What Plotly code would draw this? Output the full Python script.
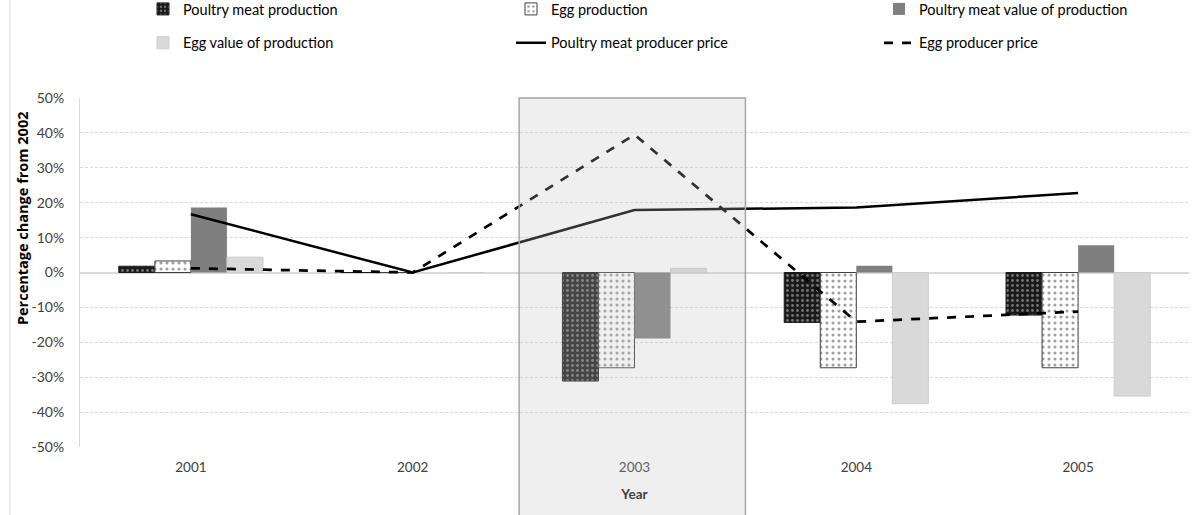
import plotly.graph_objects as go

# Percentage change from 2002, by year
years = ["2001", "2002", "2003", "2004", "2005"]
meat_production = [1.8, 0.0, -31.1, -14.3, -12.2]
egg_production = [3.3, 0.0, -27.3, -27.3, -27.3]
meat_value = [18.6, 0.0, -18.9, 1.9, 7.8]
egg_value = [4.4, 0.0, 1.2, -37.6, -35.4]
meat_price = [16.7, 0.0, 17.9, 18.6, 22.8]
egg_price = [1.2, 0.0, 39.5, -14.1, -11.2]

y_ticks = [-50, -40, -30, -20, -10, 0, 10, 20, 30, 40, 50]
y_tick_labels = ["-50%", "-40%", "-30%", "-20%", "-10%", "0%",
                 "10%", "20%", "30%", "40%", "50%"]

FONT = "Lato, 'Open Sans', sans-serif"
GRID = "#d9d9d9"

fig = go.Figure()

# Legend columns: legend (left), legend2 (middle), legend3 (right)
fig.add_trace(go.Bar(
    x=years, y=meat_production, name="Poultry meat production",
    legend="legend", legendgroup="a",
    marker=dict(line=dict(color="#1a1a1a", width=1),
                pattern=dict(shape=".", bgcolor="#1a1a1a", fgcolor="#cfcfcf",
                             size=5, solidity=0.25)),
))
fig.add_trace(go.Bar(
    x=years, y=egg_production, name="Egg production",
    legend="legend2", legendgroup="b",
    marker=dict(line=dict(color="#404040", width=1),
                pattern=dict(shape=".", bgcolor="#ffffff", fgcolor="#404040",
                             size=6, solidity=0.22)),
))
fig.add_trace(go.Bar(
    x=years, y=meat_value, name="Poultry meat value of production",
    legend="legend3", legendgroup="c",
    marker=dict(color="#7f7f7f", line=dict(width=0)),
))
fig.add_trace(go.Bar(
    x=years, y=egg_value, name="Egg value of production",
    legend="legend", legendgroup="d",
    marker=dict(color="#d9d9d9", line=dict(color="#cccccc", width=1)),
))
fig.add_trace(go.Scatter(
    x=years, y=meat_price, name="Poultry meat producer price",
    legend="legend2", legendgroup="e",
    mode="lines", line=dict(color="#000000", width=2.5),
))
fig.add_trace(go.Scatter(
    x=years, y=egg_price, name="Egg producer price",
    legend="legend3", legendgroup="f",
    mode="lines", line=dict(color="#000000", width=2.75, dash="dash"),
))

# Highlight band over the 2003 category
fig.add_shape(type="rect", xref="x", yref="paper", x0=1.48, x1=2.50, y0=-0.25, y1=1.0,
              layer="above", fillcolor="rgba(194,194,194,0.26)",
              line=dict(color="#a6a6a6", width=1.5))
# Chart-area left border
fig.add_shape(type="line", xref="paper", yref="paper", x0=-0.0632, x1=-0.0632,
              y0=-0.25, y1=1.3, line=dict(color=GRID, width=1))

# Vertical axis title, placed as an annotation so it can sit above centre
fig.add_annotation(
    text="<b>Percentage change from 2002</b>", textangle=-90,
    xref="paper", yref="paper", x=-0.0523, y=0.656,
    xanchor="center", yanchor="middle", showarrow=False,
    font=dict(family="'Open Sans', sans-serif", size=14.5, color="#000000"),
)


def legend_at(px_left):
    return dict(orientation="v", xanchor="left", yanchor="top",
                x=(px_left - 80) / 1109, y=1.3009,
                tracegroupgap=12, traceorder="grouped",
                font=dict(family=FONT, size=14.5, color="#000000"),
                bgcolor="rgba(0,0,0,0)", itemclick=False)


fig.update_layout(
    width=1203, height=515,
    margin=dict(l=80, r=14, t=98, b=68, autoexpand=False),
    paper_bgcolor="#ffffff", plot_bgcolor="#ffffff",
    font=dict(family=FONT, size=13, color="#000000"),
    barmode="group", bargap=0.35, bargroupgap=0,
    legend=legend_at(143),
    legend2=legend_at(511),
    legend3=legend_at(879),
    xaxis=dict(
        type="category", showgrid=False, ticks="", showline=False,
        ticklabelstandoff=10,
        tickfont=dict(family=FONT, size=13.5, color="#404040"),
        title=dict(text="<b>Year</b>", font=dict(family=FONT, size=13.5, color="#404040"),
                   standoff=16),
    ),
    yaxis=dict(
        range=[-50, 50], tickvals=y_ticks, ticktext=y_tick_labels,
        showgrid=True, gridcolor=GRID, griddash="3px,2px", gridwidth=1,
        zeroline=True, zerolinecolor=GRID, zerolinewidth=1.5,
        showline=True, linecolor=GRID, linewidth=1,
        ticklabelstandoff=12,
        tickfont=dict(family=FONT, size=14, color="#404040"),
    ),
)

fig.write_html("out.html")
